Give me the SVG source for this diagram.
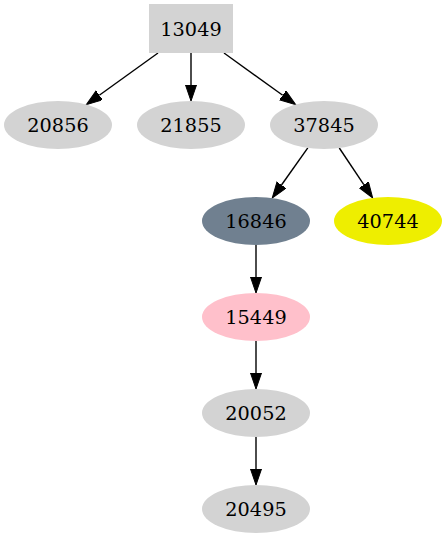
<svg xmlns="http://www.w3.org/2000/svg" width="447" height="539" viewBox="0 0 447 539">
<style>
.n text{font-family:"DejaVu Serif",serif;font-size:19.3px;text-anchor:middle;fill:#000}
.g{fill:#d3d3d3}
.e path{stroke:#000;stroke-width:1.4;fill:none;marker-end:url(#ah)}
</style>
<defs>
<marker id="ah" markerUnits="userSpaceOnUse" markerWidth="17" markerHeight="12" refX="0" refY="5.5" orient="auto">
<path d="M0,0 L16,5.5 L0,11 z" fill="#000" stroke="#000" stroke-width="1"/>
</marker>
</defs>
<rect width="447" height="539" fill="#fff"/>
<g id="edges" class="e">
<path d="M158,53 L99.3,95.3"/>
<path d="M191,53 L191,85"/>
<path d="M224,53 L282.7,95.3"/>
<path d="M307.8,147.9 L281.5,185"/>
<path d="M339.3,148 L363.8,184.7"/>
<path d="M256,245 L256,277"/>
<path d="M256,341 L256,373"/>
<path d="M256,437 L256,469"/>
</g>
<g id="n13049" class="n"><rect class="g" x="149" y="4" width="84" height="49"/><text x="191" y="35.5">13049</text></g>
<g id="n20856" class="n"><ellipse class="g" cx="58" cy="125" rx="54" ry="24"/><text x="58" y="131.7">20856</text></g>
<g id="n21855" class="n"><ellipse class="g" cx="191" cy="125" rx="54" ry="24"/><text x="191" y="131.7">21855</text></g>
<g id="n37845" class="n"><ellipse class="g" cx="324" cy="125" rx="54" ry="24"/><text x="324" y="131.7">37845</text></g>
<g id="n16846" class="n"><ellipse fill="#708090" cx="256" cy="221" rx="54" ry="24"/><text x="256" y="227.7">16846</text></g>
<g id="n40744" class="n"><ellipse fill="#eeee00" cx="388" cy="221" rx="54" ry="24"/><text x="388" y="227.7">40744</text></g>
<g id="n15449" class="n"><ellipse fill="#ffc0cb" cx="256" cy="317" rx="54" ry="24"/><text x="256" y="323.7">15449</text></g>
<g id="n20052" class="n"><ellipse class="g" cx="256" cy="413" rx="54" ry="24"/><text x="256" y="419.7">20052</text></g>
<g id="n20495" class="n"><ellipse class="g" cx="256" cy="509" rx="54" ry="24"/><text x="256" y="515.7">20495</text></g>
</svg>
